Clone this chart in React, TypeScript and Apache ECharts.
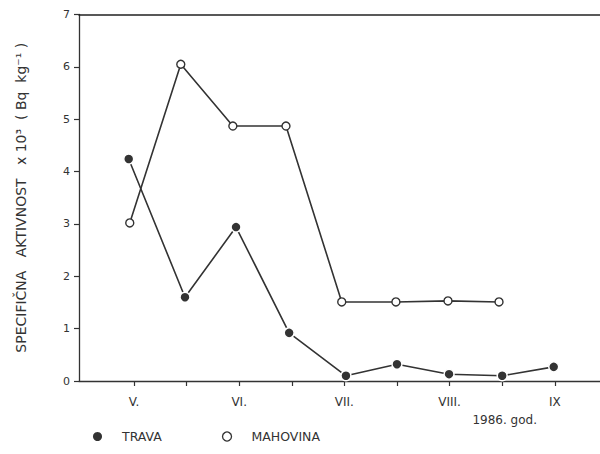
import React, { useEffect, useRef } from "react";
import * as echarts from "echarts";

// Time positions: 0 = V., 2 = VI., 4 = VII., 6 = VIII., 8 = IX (half-month steps)
const monthTickValues = [0, 1, 2, 3, 4, 5, 6, 7, 8];
const monthLabelValues = [0, 2, 4, 6, 8];
const monthLabels = ["V.", "VI.", "VII.", "VIII.", "IX"];

const travaX = [-0.1, 0.97, 1.94, 2.95, 4.03, 5.0, 5.99, 7.0, 7.98];
const travaY = [4.24, 1.6, 2.94, 0.92, 0.1, 0.32, 0.13, 0.1, 0.27];

const mahovinaX = [-0.08, 0.89, 1.88, 2.89, 3.95, 4.98, 5.97, 6.94];
const mahovinaY = [3.02, 6.05, 4.87, 4.87, 1.51, 1.51, 1.53, 1.51];

const yTicks = [0, 1, 2, 3, 4, 5, 6, 7];

const INK = "#333333";
const FONT = "DejaVu Sans";

export default function App() {
  const ref = useRef<HTMLDivElement>(null);

  useEffect(() => {
    if (!ref.current) return;
    const chart = echarts.init(ref.current, undefined, { renderer: "svg" });
    const travaData = travaX.map((x, i) => [x, travaY[i]]);
    const mahovinaData = mahovinaX.map((x, i) => [x, mahovinaY[i]]);

    chart.setOption({
      animation: false,
      backgroundColor: "#ffffff",
      textStyle: { fontFamily: FONT, color: INK },
      grid: { left: 79, right: 0, top: 14.5, bottom: 73, containLabel: false },
      legend: {
        left: 88,
        top: 425,
        itemWidth: 9,
        itemHeight: 9,
        itemGap: 60,
        textStyle: { fontFamily: FONT, fontSize: 12.5, color: INK, padding: [0, 0, 0, 15] },
        data: [
          { name: "TRAVA", icon: "circle", itemStyle: { color: INK, borderWidth: 0 } },
          {
            name: "MAHOVINA",
            icon: "circle",
            itemStyle: { color: "#ffffff", borderColor: INK, borderWidth: 1.3 },
          },
        ],
      },
      xAxis: [
        {
          type: "value",
          min: -1.045,
          max: 8.86,
          axisLine: { show: true, onZero: false, lineStyle: { color: INK, width: 1.3 } },
          axisTick: {
            show: true,
            inside: false,
            length: 5,
            customValues: monthTickValues,
            lineStyle: { color: INK, width: 1.2 },
          },
          axisLabel: {
            show: true,
            customValues: monthLabelValues,
            margin: 15,
            fontFamily: FONT,
            fontSize: 12,
            color: INK,
            formatter: (v: number) => {
              const idx = monthLabelValues.indexOf(Math.round(v));
              return idx >= 0 ? monthLabels[idx] : "";
            },
          },
          splitLine: { show: false },
        },
        {
          type: "value",
          position: "top",
          min: -1.045,
          max: 8.86,
          axisLine: { show: true, onZero: false, lineStyle: { color: "#222222", width: 1.6 } },
          axisTick: { show: false },
          axisLabel: { show: false },
          splitLine: { show: false },
        },
      ],
      yAxis: {
        type: "value",
        min: 0,
        max: 7,
        interval: 1,
        name: "SPECIFIČNA   AKTIVNOST   x 10³  ( Bq  kg⁻¹ )",
        nameLocation: "middle",
        nameRotate: 90,
        nameGap: 51,
        nameTextStyle: { fontFamily: FONT, fontSize: 14, color: INK },
        axisLine: { show: true, onZero: false, lineStyle: { color: INK, width: 1.3 } },
        axisTick: { show: true, inside: false, length: 5, lineStyle: { color: INK, width: 1.2 } },
        axisLabel: {
          margin: 9,
          fontFamily: FONT,
          fontSize: 11,
          color: INK,
          formatter: (v: number) => (yTicks.includes(v) ? String(v) : ""),
        },
        splitLine: { show: false },
      },
      series: [
        {
          name: "TRAVA",
          type: "line",
          data: travaData,
          symbol: "circle",
          symbolSize: 10,
          itemStyle: { color: INK, borderColor: "#ffffff", borderWidth: 1.5 },
          lineStyle: { color: INK, width: 1.6 },
          z: 3,
        },
        {
          name: "MAHOVINA",
          type: "line",
          data: mahovinaData,
          symbol: "circle",
          symbolSize: 8,
          itemStyle: { color: "#ffffff", borderColor: INK, borderWidth: 1.4 },
          lineStyle: { color: INK, width: 1.6 },
          z: 4,
        },
      ],
      graphic: [
        {
          type: "text",
          right: 600 - 537,
          top: 414,
          style: { text: "1986. god.", fontFamily: FONT, fontSize: 12, fill: INK },
        },
      ],
    });

    return () => chart.dispose();
  }, []);

  return (
    <div
      ref={ref}
      style={{ position: "fixed", left: 0, top: 0, width: 600, height: 454 }}
    />
  );
}
